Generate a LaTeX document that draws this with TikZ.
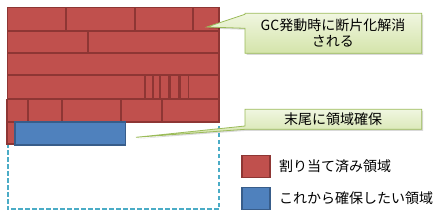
\documentclass[tikz,border=0pt]{standalone}
\usepackage{fontspec}
\setmainfont{Noto Sans CJK JP}
\definecolor{redfill}{HTML}{C0504D}
\definecolor{redline}{HTML}{8E3634}
\definecolor{bluefill}{HTML}{4F81BD}
\definecolor{blueline}{HTML}{385D8A}
\definecolor{aqua}{HTML}{4BACC6}
\definecolor{calltop}{HTML}{F0F6E0}
\definecolor{callbot}{HTML}{D4E4AA}
\definecolor{callline}{HTML}{9BBB59}
\tikzset{
  redblk/.style={fill=redfill, draw=redline, line width=1.6pt},
  blueblk/.style={fill=bluefill, draw=blueline, line width=1.6pt},
  callout/.style={draw=callline, line width=0.8pt, top color=calltop, bottom color=callbot},
  callshadow/.style={fill=black, opacity=0.15},
  txt/.style={font=\fontsize{14}{16}\selectfont, inner sep=0pt, text=black},
}
\begin{document}
\begin{tikzpicture}[x=1pt, y=-1pt]
\useasboundingbox[fill=white] (0,0) rectangle (440,220);
% reserved area (dashed)
\draw[aqua, line width=1.8pt, dash pattern=on 4.5pt off 2.5pt] (7.7,122) rectangle (219.3,209.3);
% row 1
\draw[redblk] (7.3,7.3) rectangle (66,30.7);
\draw[redblk] (66,7.3) rectangle (134.7,30.7);
\draw[redblk] (134.7,7.3) rectangle (192.7,30.7);
\draw[redblk] (192.7,7.3) rectangle (219,30.7);
% row 2
\draw[redblk] (7.3,30.7) rectangle (88,52.7);
\draw[redblk] (88,30.7) rectangle (219,52.7);
% row 3
\draw[redblk] (7.3,52.7) rectangle (219,74.7);
% row 4
\draw[redblk] (7.3,74.7) rectangle (145,98.5);
\draw[redblk] (145,74.7) rectangle (152.7,98.5);
\draw[redblk] (152.7,74.7) rectangle (159.7,98.5);
\draw[redblk] (159.7,74.7) rectangle (168.3,98.5);
\draw[redblk] (168.3,74.7) rectangle (169.7,98.5);
\draw[redblk] (169.7,74.7) rectangle (178.3,98.5);
\draw[redblk] (178.3,74.7) rectangle (179.7,98.5);
\draw[redblk] (179.7,74.7) rectangle (188.3,98.5);
\draw[redblk] (188.3,74.7) rectangle (219,98.5);
% row 5
\draw[redblk] (6.7,99.5) rectangle (28,121.7);
\draw[redblk] (28,99.5) rectangle (62,121.7);
\draw[redblk] (62,99.5) rectangle (120.7,121.7);
\draw[redblk] (120.7,99.5) rectangle (162,121.7);
\draw[redblk] (162,99.5) rectangle (219,121.7);
% row 6
\draw[redblk] (6.7,121.7) rectangle (15,144);
\draw[blueblk] (15,121.7) rectangle (125.3,145);
% callout 1
\fill[callshadow, shift={(1.5,1.5)}] (245,13.3) -- (421.7,13.3) -- (421.7,53.3) -- (245,53.3) -- (245,28.3) -- (207,27) -- (245,14.3) -- cycle;
\path[callout] (245,13.3) -- (421.7,13.3) -- (421.7,53.3) -- (245,53.3) -- (245,28.3) -- (207,27) -- (245,14.3) -- cycle;
\node[txt, align=center] (t1) at (333,32.5) {GC発動時に断片化解消\\される};
% callout 2
\fill[callshadow, shift={(1.5,1.5)}] (245,109.3) -- (421.7,109.3) -- (421.7,129.3) -- (245,129.3) -- (136,137.3) -- (245,126) -- cycle;
\path[callout] (245,109.3) -- (421.7,109.3) -- (421.7,129.3) -- (245,129.3) -- (136,137.3) -- (245,126) -- cycle;
\node[txt] (t2) at (333,119.3) {末尾に領域確保};
% legend
\draw[redblk] (241.7,155.5) rectangle (270,177.3);
\node[txt, anchor=west] (l1) at (279,166) {割り当て済み領域};
\draw[blueblk] (241.7,187.5) rectangle (270,209.5);
\node[txt, anchor=west] (l2) at (279,198.5) {これから確保したい領域};
\end{tikzpicture}
\end{document}
